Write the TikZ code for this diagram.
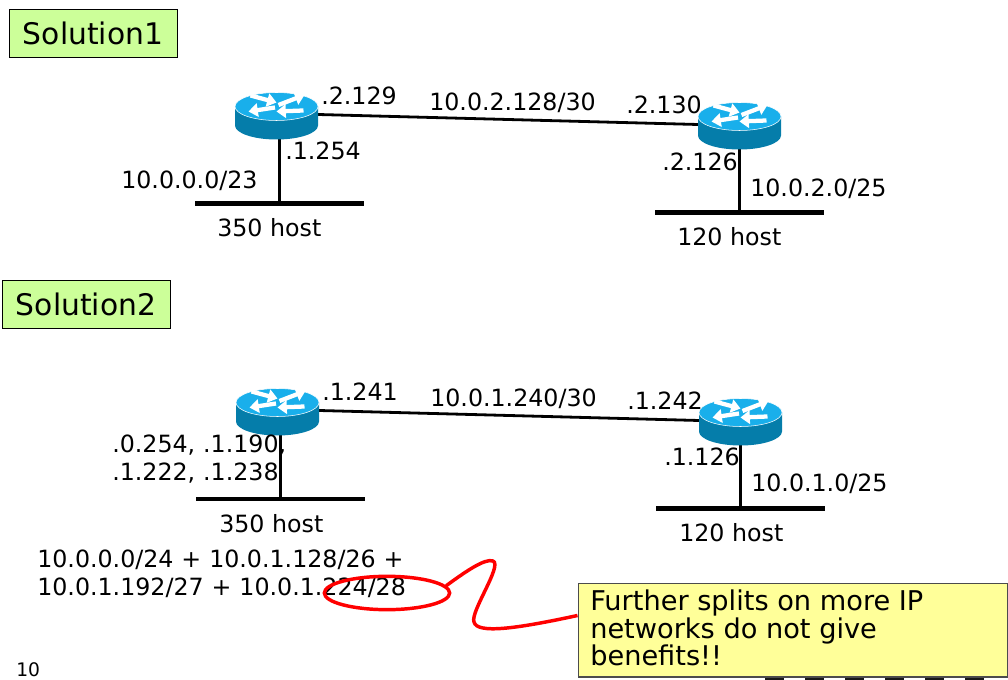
\documentclass[tikz,border=0pt]{standalone}
\usepackage{fontspec}
\usetikzlibrary{shapes.geometric,arrows.meta}
\setmainfont{DejaVu Sans}
\definecolor{routertop}{RGB}{25,175,235}
\definecolor{routerside}{RGB}{5,125,170}
\definecolor{solgreen}{RGB}{204,255,153}
\definecolor{noteyellow}{RGB}{255,255,153}
\tikzset{
  routerbox/.style={minimum width=62pt,minimum height=37pt,inner sep=0pt},
  busbar/.style={fill=black,minimum width=127pt,minimum height=3.2pt,inner sep=0pt},
  lbl/.style={font=\fontsize{17.8pt}{21pt}\selectfont,inner sep=0pt,align=left},
  solbox/.style={draw=black,fill=solgreen,font=\fontsize{22.3pt}{26pt}\selectfont,inner sep=0pt},
  wire/.style={line width=2.1pt},
  pics/router/.style={code={
    \fill[routerside] (-41.5,-8) -- (-41.5,11) arc[start angle=180,end angle=0,x radius=41.5,y radius=14] -- (41.5,-8) -- cycle;
    \fill[routertop,draw=white,line width=0.4pt] (0,-8) ellipse[x radius=41.5,y radius=14];
    \foreach \xa/\ya/\xb/\yb in {-26/-19/0/-12, -1.5/-7/-28/-3, 2/-9.5/28/-19.5, 27/-4/0/-3}
      \draw[white,line width=3.2pt,-{Triangle[length=7pt,width=10pt]}] (\xa,\ya) -- (\xb,\yb);
  }}
}
\begin{document}
\begin{tikzpicture}[x=0.75pt,y=0.75pt,yscale=-1,xscale=1]
\useasboundingbox (0,0) rectangle (1008,680);
% bottom edge of the slide
\foreach \xpos in {765,805,845,885,925,965}
  \fill[black!90] (\xpos,677) rectangle ++(19,3);
% headings
\node[solbox,minimum width=126pt,minimum height=36pt] (solone) at (93,33.5) {Solution1};
\node[solbox,minimum width=126pt,minimum height=36pt] (soltwo) at (86,304) {Solution2};
% first network
\node[routerbox] (ra) at (276.5,114.5) {};
\node[routerbox] (rb) at (739.5,124.5) {};
\node[busbar] (busa) at (279.5,203.5) {};
\node[busbar] (busb) at (739.5,212.5) {};
\draw[wire] (ra.east) -- (rb.west);
\draw[wire] (busa.north |- ra.south) -- (busa.north);
\draw[wire] (busb.north |- rb.south) -- (busb.north);
\pic[transform shape] at (ra) {router};
\pic[transform shape] at (rb) {router};
\node[lbl,anchor=west] (la1) at (321,96) {.2.129};
\node[lbl,anchor=west] (la2) at (429,103) {10.0.2.128/30};
\node[lbl,anchor=west] (la3) at (626,105) {.2.130};
\node[lbl,anchor=west] (la4) at (285,151) {.1.254};
\node[lbl,anchor=west] (la5) at (121,181) {10.0.0.0/23};
\node[lbl,anchor=west] (la6) at (662,162) {.2.126};
\node[lbl,anchor=west] (la7) at (750,189) {10.0.2.0/25};
\node[lbl,anchor=west] (la8) at (217,228) {350 host};
\node[lbl,anchor=west] (la9) at (677,237) {120 host};
% second network
\node[routerbox] (rc) at (277.5,410.5) {};
\node[routerbox] (rd) at (740.5,420.5) {};
\node[busbar] (busc) at (280.5,499) {};
\node[busbar] (busd) at (740.5,508.5) {};
\draw[wire] (rc.east) -- (rd.west);
\draw[wire] (busc.north |- rc.south) -- (busc.north);
\draw[wire] (busd.north |- rd.south) -- (busd.north);
\pic[transform shape] at (rc) {router};
\pic[transform shape] at (rd) {router};
\node[lbl,anchor=west] (lb1) at (322,392) {.1.241};
\node[lbl,anchor=west] (lb2) at (430,399) {10.0.1.240/30};
\node[lbl,anchor=west] (lb3) at (627,401) {.1.242};
\node[lbl,anchor=west] (lb4) at (664,457) {.1.126};
\node[lbl,anchor=west] (lb5) at (751,484) {10.0.1.0/25};
\node[lbl,anchor=west] (lb6) at (219,524) {350 host};
\node[lbl,anchor=west] (lb7) at (679,533) {120 host};
\node[lbl,anchor=west,text width=190pt] (lb8) at (112,459) {.0.254, .1.190,\\.1.222, .1.238};
\node[lbl,anchor=west,text width=320pt] (lb9) at (37,574) {10.0.0.0/24 + 10.0.1.128/26 +\\10.0.1.192/27 + 10.0.1.224/28};
% callout
\node[draw=black!70,line width=1pt,fill=noteyellow,anchor=north west,minimum width=322pt,minimum height=70pt,inner sep=0pt] (note) at (577.5,583) {};
\node[anchor=north west,inner sep=0pt,align=left,font=\fontsize{20.4pt}{20.6pt}\selectfont] (notetext) at (590,590) {Further splits on more IP\\networks do not give\\benefits!!};
\node[draw=red,line width=2.6pt,ellipse,minimum width=94pt,minimum height=25pt,inner sep=0pt] (ring) at (387,593) {};
\coordinate (noteend) at (577.5,615.5);
\draw[red,line width=2.6pt] (ring.7) .. controls (465,572) and (485,558) .. (493,561) .. controls (503,565) and (470,612) .. (474,622) .. controls (477,634) and (515,629) .. (noteend);
\node[font=\fontsize{14pt}{16pt}\selectfont,inner sep=0pt,anchor=west] (pagenum) at (16,670) {10};
\end{tikzpicture}
\end{document}
